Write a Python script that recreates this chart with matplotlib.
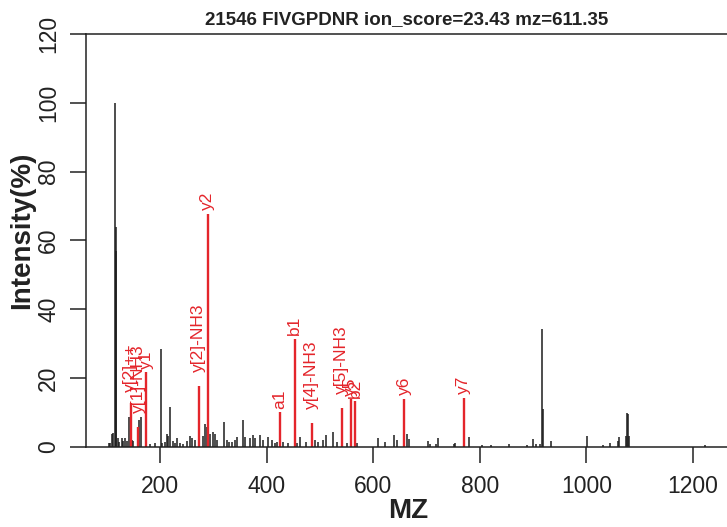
import matplotlib
matplotlib.use('Agg')
import matplotlib.pyplot as plt

plt.rcParams['font.family'] = ['Liberation Sans', 'DejaVu Sans']

title = "21546 FIVGPDNR ion_score=23.43 mz=611.35"
x_label = "MZ"
y_label = "Intensity(%)"
x_ticks = [200, 400, 600, 800, 1000, 1200]
y_ticks = [0, 20, 40, 60, 80, 100, 120]

# unannotated peaks (black)
bg_mz = [104.3, 106.1, 109.3, 111.2, 115.0, 116.8, 118.0, 121.7, 123.3, 128.1,
         131.1, 134.3, 137.5, 142.4, 146.9, 149.9, 161.1, 164.3, 181.2, 190.5,
         201.3, 203.2, 209.4, 212.5, 215.6, 218.8, 223.8, 228.1, 231.3, 237.5,
         243.7, 251.2, 256.3, 259.5, 265.7, 280.1, 284.4, 287.6, 293.8, 298.9,
         303.2, 306.4, 320.1, 325.2, 330.0, 334.6, 340.8, 345.1, 356.3, 359.5,
         368.9, 375.1, 378.3, 387.7, 393.9, 403.3, 409.6, 415.8, 420.1, 431.4,
         440.8, 456.5, 462.7, 474.0, 490.9, 497.1, 505.3, 511.5, 525.2, 531.6,
         550.4, 569.2, 609.7, 622.3, 639.7, 645.4, 664.0, 667.0, 702.4, 706.7,
         717.4, 721.1, 751.8, 753.7, 780.0, 803.7, 822.0, 855.0, 888.0, 899.5,
         905.7, 913.0, 916.3, 918.0, 933.0, 1001.0, 1032.0, 1044.6, 1059.0, 1061.5,
         1075.0, 1077.0, 1078.5, 1080.0, 1222.9]
bg_int = [1.0, 1.0, 3.6, 3.9, 100.0, 64.0, 57.0, 2.4, 1.4, 2.4,
          1.8, 2.4, 1.6, 8.5, 2.0, 1.7, 7.7, 8.7, 0.8, 1.2,
          28.5, 1.0, 1.5, 3.8, 3.1, 11.4, 1.7, 1.2, 2.4, 1.2,
          0.9, 1.7, 3.2, 2.4, 2.0, 3.1, 6.7, 5.8, 3.8, 4.3,
          3.8, 1.9, 7.2, 1.9, 1.5, 1.5, 1.9, 2.9, 7.7, 2.9,
          2.4, 3.4, 2.4, 3.4, 1.9, 2.9, 1.9, 1.0, 1.5, 1.5,
          1.2, 1.0, 2.9, 1.5, 1.9, 1.5, 1.9, 3.4, 4.3, 1.5,
          1.0, 1.0, 2.4, 1.5, 3.3, 2.0, 3.8, 2.1, 1.6, 0.9,
          0.9, 2.4, 0.9, 1.2, 2.9, 0.5, 0.4, 0.7, 0.6, 2.2,
          0.9, 0.7, 34.2, 11.1, 1.6, 3.2, 0.6, 1.0, 1.7, 2.9,
          3.0, 9.8, 9.6, 3.0, 0.4]

# annotated fragment ions (red)
ion_labels = ["y[2]++", "y[1]-NH3", "y1", "y[2]-NH3", "y2", "a1", "b1",
              "y[4]-NH3", "y[5]-NH3", "y5", "b2", "y6", "y7"]
ion_mz = [145.0, 159.3, 174.3, 272.6, 289.5, 425.2, 452.8,
          484.7, 541.0, 557.9, 566.0, 658.0, 770.0]
ion_int = [12.8, 5.8, 21.7, 17.7, 67.8, 10.1, 31.4,
           6.9, 11.3, 13.8, 13.2, 14.0, 14.3]

RED = '#E4252B'
BLACK = '#1c1c1c'

fig = plt.figure(figsize=(7.27, 5.27), dpi=100)
ax = fig.add_axes([86 / 727, (527 - 446.7) / 527, (727 - 86) / 727, (446.7 - 34) / 527])

ax.vlines(bg_mz, 0, bg_int, colors=BLACK, lw=1.1)
ax.vlines(ion_mz, 0, ion_int, colors=RED, lw=1.7)
for m, h, lab in zip(ion_mz, ion_int, ion_labels):
    ax.text(m, h + 0.5 * len(lab), lab, rotation=90, ha='center', va='bottom',
            color=RED, fontsize=12.5)

ax.set_xlim(61.1, 1264)
ax.set_ylim(0, 120)
ax.set_xticks(x_ticks)
ax.set_yticks(y_ticks)
ax.set_xticklabels([str(t) for t in x_ticks])
ax.set_yticklabels([str(t) for t in y_ticks], rotation=90, va='center')
ax.tick_params(axis='both', direction='out', length=11.5, width=1.1,
               labelsize=16.5, color='#222222', labelcolor='#222222')
ax.tick_params(axis='x', pad=9)
ax.tick_params(axis='y', pad=7)

for s in ['left', 'bottom', 'top']:
    ax.spines[s].set_linewidth(1.1)
    ax.spines[s].set_color('#222222')
ax.spines['right'].set_visible(False)

ax.set_title(title, fontsize=13.5, fontweight='bold', pad=7, color='#222222')
fig.text(22.5 / 727, 1 - 230 / 527, y_label, rotation=90, ha='center', va='center',
         fontsize=20, fontweight='bold', color='#222222')
fig.text(408 / 727, 1 - 511 / 527, x_label, ha='center', va='center',
         fontsize=20, fontweight='bold', color='#222222')

fig.savefig('out.png', dpi=100)
